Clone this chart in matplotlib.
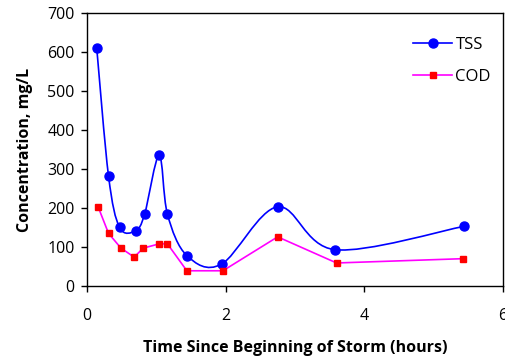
import numpy as np
import matplotlib
matplotlib.use("Agg")
import matplotlib.pyplot as plt
from matplotlib.path import Path
from matplotlib.patches import PathPatch
from matplotlib.lines import Line2D

plt.rcParams['font.family'] = ['Open Sans', 'DejaVu Sans']

tss_t = [0.14, 0.31, 0.47, 0.70, 0.83, 1.04, 1.16, 1.44, 1.94, 2.75, 3.58, 5.44]
tss_c = [610, 282, 150, 142, 184, 335, 184, 78, 56, 203, 93, 153]

cod_t = [0.16, 0.31, 0.49, 0.68, 0.81, 1.04, 1.16, 1.44, 1.96, 2.75, 3.60, 5.42]
cod_c = [203, 135, 97, 74, 97, 108, 108, 39, 39, 126, 59, 70]


def smooth_path(x, y):
    # Excel-style smoothed line as cubic Bezier segments
    p = np.column_stack([x, y]).astype(float)
    verts = [p[0]]
    codes = [Path.MOVETO]
    n = len(p)
    for i in range(n - 1):
        p0 = p[i - 1] if i > 0 else p[i]
        p3 = p[i + 2] if i + 2 < n else p[i + 1]
        c1 = p[i] + (p[i + 1] - p0) / 6
        c2 = p[i + 1] - (p3 - p[i]) / 6
        verts += [c1, c2, p[i + 1]]
        codes += [Path.CURVE4] * 3
    return Path(verts, codes)


fig = plt.figure(figsize=(5.06, 3.62), dpi=100)
ax = fig.add_axes([0.172, 0.210, 0.822, 0.754])

ax.add_patch(PathPatch(smooth_path(tss_t, tss_c), facecolor='none',
                       edgecolor='#0000FF', lw=1.2))
ax.plot(tss_t, tss_c, ls='none', marker='o', ms=6.5, color='#0000FF')

ax.plot(cod_t, cod_c, color='#FF00FF', lw=1.2, marker='s', ms=4,
        mfc='#FF0000', mec='#FF0000')

ax.set_xlim(0, 6)
ax.set_ylim(0, 700)
ax.set_xticks([0, 2, 4, 6])
ax.set_yticks(range(0, 701, 100))
ax.tick_params(direction='out', length=4, labelsize=11.5, width=1)
ax.tick_params(axis='x', pad=12)
ax.tick_params(axis='y', pad=5)
for s in ax.spines.values():
    s.set_linewidth(1)

ax.set_xlabel('Time Since Beginning of Storm (hours)', fontweight='bold',
              fontsize=11.5, va='center')
ax.xaxis.set_label_coords(0.5, -0.227)
ax.set_ylabel('Concentration, mg/L', fontweight='bold', fontsize=11.5,
              va='center')
ax.yaxis.set_label_coords(-0.149, 0.5)

handles = [
    Line2D([], [], color='#0000FF', lw=1.2, marker='o', ms=6.5),
    Line2D([], [], color='#FF00FF', lw=1.2, marker='s', ms=4,
           mfc='#FF0000', mec='#FF0000'),
]
ax.legend(handles, ['TSS', 'COD'], loc='upper left', frameon=False,
          fontsize=12, handlelength=2.35, handletextpad=0.2,
          labelspacing=0.95, borderpad=0, borderaxespad=0,
          bbox_to_anchor=(413 / 506, 1 - 37 / 362),
          bbox_transform=fig.transFigure)

fig.savefig('out.png', dpi=100)
